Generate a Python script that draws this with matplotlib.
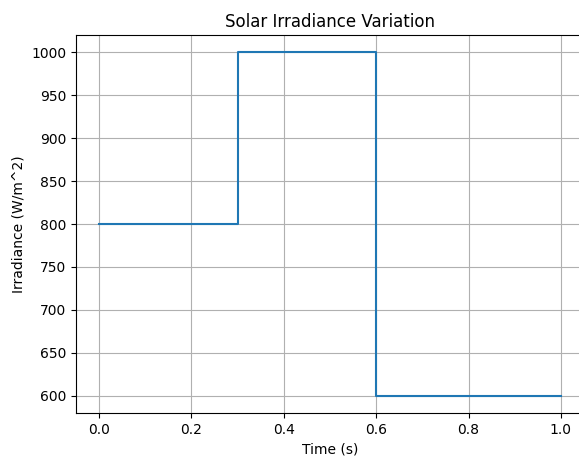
import numpy as np
import matplotlib.pyplot as plt

# step profile of irradiance over time
time_s = [0.0, 0.3, 0.3, 0.6, 0.6, 1.0]
irradiance = [800, 800, 1000, 1000, 600, 600]

fig = plt.figure(figsize=(5.79, 4.58), dpi=100)
ax = fig.add_axes([76 / 579, 45 / 458, 508 / 579, 378 / 458])

ax.plot(time_s, irradiance, color='#1f77b4', linewidth=1.5)
ax.set_xlabel('Time (s)')
ax.set_ylabel('Irradiance (W/m^2)')
ax.set_title('Solar Irradiance Variation')
ax.grid(True)

fig.savefig('out.png', dpi=100)
